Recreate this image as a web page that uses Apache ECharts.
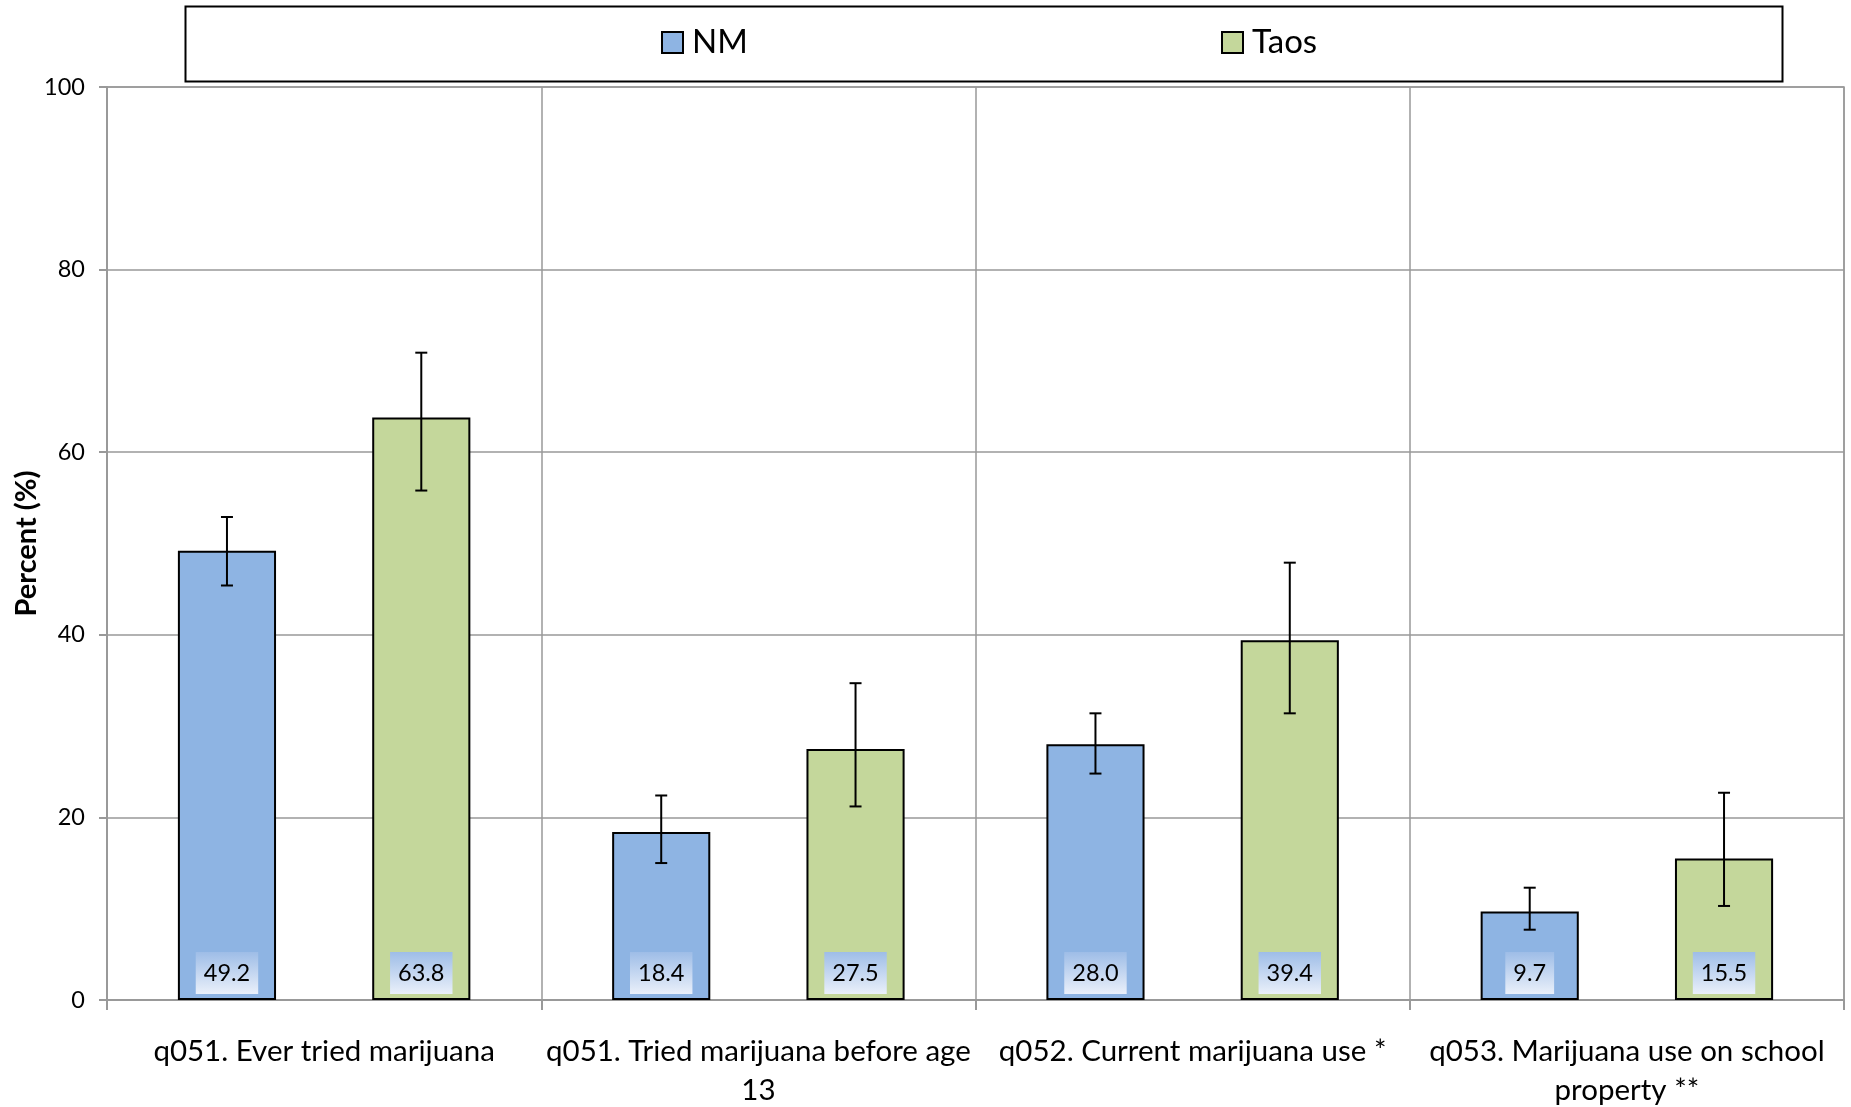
<!DOCTYPE html>
<html>
<head>
<meta charset="utf-8">
<script src="https://cdn.jsdelivr.net/npm/echarts@6/dist/echarts.min.js"></script>
<style>html,body{margin:0;padding:0;background:#fff}#c{width:1851px;height:1107px}</style>
</head>
<body>
<div id="c"></div>
<script>
const categories = ['q051. Ever tried marijuana', 'q051. Tried marijuana before age 13', 'q052. Current marijuana use *', 'q053. Marijuana use on school property **'];
const tickLabels = ['q051. Ever tried marijuana', 'q051. Tried marijuana before age\n13', 'q052. Current marijuana use *', 'q053. Marijuana use on school\nproperty **'];
const seriesNames = ['NM', 'Taos'];
const nmValues = [49.2, 18.4, 28.0, 9.7];
const taosValues = [63.8, 27.5, 39.4, 15.5];
const nmLow = [45.4, 15.0, 24.8, 7.7];
const nmHigh = [52.9, 22.4, 31.4, 12.3];
const taosLow = [55.8, 21.2, 31.4, 10.3];
const taosHigh = [70.9, 34.7, 47.9, 22.7];
const yTicks = [0, 20, 40, 60, 80, 100];

const FONT = 'Lato, "Open Sans", sans-serif';
const BAR_W = 0.226, BAR_GAP = 0.98;
const OFF = BAR_W * (1 + BAR_GAP) / 2;

const labelBg = new echarts.graphic.LinearGradient(0, 0, 0, 1, [
  {offset: 0, color: '#9ebde7'},
  {offset: 1, color: '#eaf0fa'}
]);

function errRender(sign) {
  return function (params, api) {
    const i = api.value(0);
    const lo = api.coord([i, api.value(1)]);
    const hi = api.coord([i, api.value(2)]);
    const band = api.size([1, 0])[0];
    const x = lo[0] + sign * band * OFF;
    const cap = 6;
    const st = {stroke: '#000', lineWidth: 2};
    return {
      type: 'group',
      children: [
        {type: 'line', shape: {x1: x, y1: lo[1], x2: x, y2: hi[1]}, style: st},
        {type: 'line', shape: {x1: x - cap, y1: lo[1], x2: x + cap, y2: lo[1]}, style: st},
        {type: 'line', shape: {x1: x - cap, y1: hi[1], x2: x + cap, y2: hi[1]}, style: st}
      ]
    };
  };
}

function barLabel() {
  return {
    show: true,
    position: 'insideBottom',
    distance: 6,
    color: '#000',
    fontFamily: FONT,
    fontSize: 23.5,
    backgroundColor: labelBg,
    padding: [9, 8, 9, 8],
    formatter: p => p.value.toFixed(1)
  };
}

const legendText = {fontFamily: FONT, fontSize: 33, color: '#000', padding: [0, 0, 0, 4]};

const chart = echarts.init(document.getElementById('c'), null, {renderer: 'canvas'});
chart.setOption({
  animation: false,
  backgroundColor: '#fff',
  graphic: [{
    type: 'rect', left: 183, top: 4,
    shape: {width: 1597, height: 75},
    style: {fill: 'none', stroke: '#000', lineWidth: 2},
    z: 10
  }],
  legend: [
    {data: [seriesNames[0]], icon: 'rect', left: 656, top: 21, itemWidth: 21, itemHeight: 21, itemGap: 0, textStyle: legendText},
    {data: [seriesNames[1]], icon: 'rect', left: 1216, top: 21, itemWidth: 21, itemHeight: 21, itemGap: 0, textStyle: legendText}
  ],
  grid: {left: 107, right: 7, top: 87, bottom: 107, outerBoundsMode: 'none', containLabel: false, show: true, borderColor: '#999', borderWidth: 1.5},
  xAxis: {
    type: 'category',
    data: categories,
    boundaryGap: true,
    axisLine: {lineStyle: {color: '#999', width: 2}},
    axisTick: {show: true, length: 10, interval: 0, lineStyle: {color: '#999', width: 2}},
    splitLine: {show: true, interval: 0, lineStyle: {color: '#999', width: 1.5}},
    axisLabel: {
      interval: 0, margin: 32, color: '#000', fontFamily: FONT, fontSize: 29.5, lineHeight: 39,
      formatter: (v, idx) => tickLabels[idx]
    }
  },
  yAxis: {
    type: 'value', min: yTicks[0], max: yTicks[yTicks.length - 1], interval: 20,
    name: 'Percent (%)', nameLocation: 'middle', nameGap: 66, nameRotate: 90, nameMoveOverlap: false,
    nameTextStyle: {fontFamily: FONT, fontSize: 29, fontWeight: 'bold', color: '#000'},
    axisLine: {show: true, lineStyle: {color: '#999', width: 2}},
    axisTick: {show: true, length: 8, lineStyle: {color: '#999', width: 2}},
    splitLine: {show: true, lineStyle: {color: '#999', width: 1.5}},
    axisLabel: {margin: 22, color: '#000', fontFamily: FONT, fontSize: 23.5}
  },
  series: [
    {name: seriesNames[0], type: 'bar', data: nmValues, barWidth: (BAR_W * 100) + '%', barGap: (BAR_GAP * 100) + '%',
      itemStyle: {color: '#8eb4e3', borderColor: '#000', borderWidth: 2}, label: barLabel()},
    {name: seriesNames[1], type: 'bar', data: taosValues, barWidth: (BAR_W * 100) + '%', barGap: (BAR_GAP * 100) + '%',
      itemStyle: {color: '#c4d79b', borderColor: '#000', borderWidth: 2}, label: barLabel()},
    {type: 'custom', renderItem: errRender(-1), z: 5, encode: {x: 0, y: [1, 2]},
      data: categories.map((c, i) => [i, nmLow[i], nmHigh[i]])},
    {type: 'custom', renderItem: errRender(1), z: 5, encode: {x: 0, y: [1, 2]},
      data: categories.map((c, i) => [i, taosLow[i], taosHigh[i]])}
  ]
});
</script>
</body>
</html>
